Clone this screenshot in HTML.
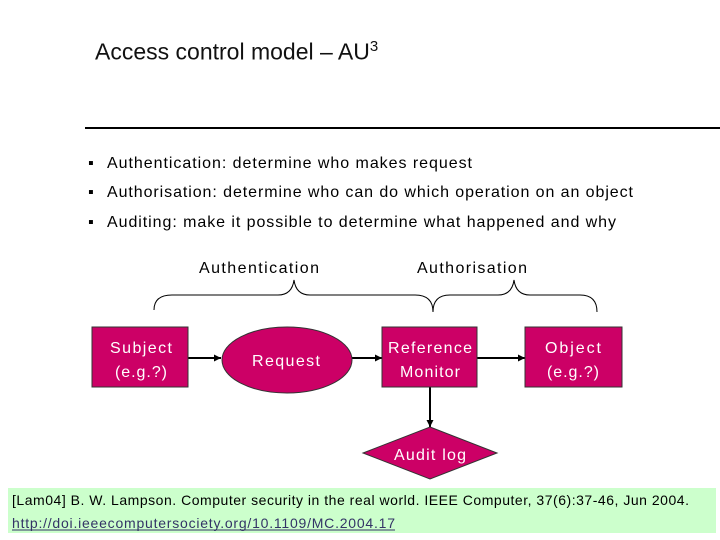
<!DOCTYPE html>
<html><head><meta charset="utf-8"><style>
body{margin:0;width:720px;height:540px;background:#fff;position:relative;overflow:hidden;font-family:"Liberation Sans",sans-serif}
.t{position:absolute;white-space:nowrap}
</style></head><body>
<div class="t" style="left:95px;top:38px;font-size:23px;color:#111">Access control model – AU<sup style="font-size:15px">3</sup></div>
<div style="position:absolute;left:85px;top:127px;width:635px;height:2px;background:#000"></div>
<svg width="720" height="540" style="position:absolute;left:0;top:0" font-family="Liberation Sans, sans-serif">
<defs><marker id="a" markerWidth="7" markerHeight="7" refX="7" refY="3.5" orient="auto" markerUnits="userSpaceOnUse"><path d="M0,0 L7,3.5 L0,7z" fill="#000"/></marker></defs>
<g font-size="16">
<text x="88" y="168">▪</text><text x="107" y="168" textLength="365">Authentication: determine who makes request</text>
<text x="88" y="197">▪</text><text x="107" y="197" textLength="526">Authorisation: determine who can do which operation on an object</text>
<text x="88" y="227">▪</text><text x="107" y="227" textLength="509">Auditing: make it possible to determine what happened and why</text>
</g>
<g fill="none" stroke="#000" stroke-width="1">
<path d="M154,310 Q154,295 172,295 L278,295 Q292,295 294,280 Q296,295 310,295 L415,295 Q433,295 433,312"/>
<path d="M433,312 Q433,295 450,295 L498,295 Q512,295 514,280 Q516,295 530,295 L580,295 Q597,295 597,312"/>
</g>
<text x="259" y="273" font-size="16" text-anchor="middle" textLength="120">Authentication</text>
<text x="472" y="273" font-size="16" text-anchor="middle" textLength="110">Authorisation</text>
<g stroke="#000" stroke-width="2" marker-end="url(#a)">
<line x1="188" y1="358" x2="221" y2="358"/>
<line x1="352" y1="358" x2="382" y2="358"/>
<line x1="477" y1="358" x2="525" y2="358"/>
<line x1="430" y1="387" x2="430" y2="427"/>
</g>
<g fill="#cc0066" stroke="#333" stroke-width="1">
<rect x="92" y="327" width="96" height="60"/>
<ellipse cx="287" cy="360" rx="65" ry="33"/>
<rect x="382" y="327" width="95" height="60"/>
<rect x="525" y="327" width="97" height="60"/>
<polygon points="430,427 497,453 430,479 363,453"/>
</g>
<g fill="#fff" font-size="16" text-anchor="middle">
<text x="141" y="353" textLength="62">Subject</text><text x="141" y="377" textLength="52">(e.g.?)</text>
<text x="286" y="366" textLength="68">Request</text>
<text x="430" y="353" textLength="84">Reference</text><text x="430" y="377" textLength="60">Monitor</text>
<text x="573" y="353" textLength="56">Object</text><text x="573" y="377" textLength="52">(e.g.?)</text>
<text x="430" y="460" textLength="72">Audit log</text>
</g>
<rect x="8" y="488" width="708" height="45" fill="#ccffcc"/>
<text x="12" y="505" font-size="14" textLength="677">[Lam04] B. W. Lampson. Computer security in the real world. IEEE Computer, 37(6):37-46, Jun 2004.</text>
<text x="12" y="528" font-size="14" fill="#333366" textLength="383">http://doi.ieeecomputersociety.org/10.1109/MC.2004.17</text>
<line x1="12" y1="530" x2="395" y2="530" stroke="#333366" stroke-width="1"/>
</svg>
</body></html>
